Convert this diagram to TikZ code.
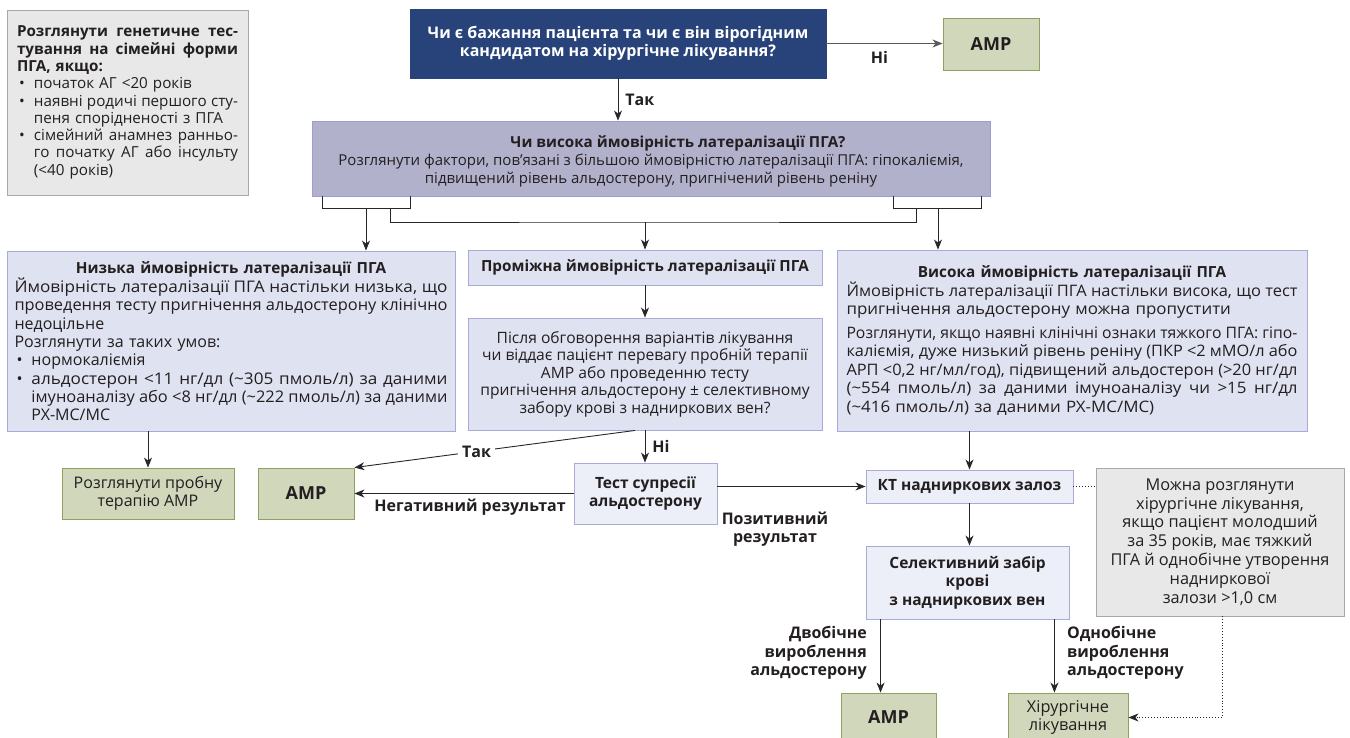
\documentclass[tikz,border=0pt]{standalone}
\usepackage{fontspec}
\setmainfont{Open Sans}
\usetikzlibrary{arrows.meta,calc}
\definecolor{navy}{RGB}{40,66,122}
\definecolor{purpfill}{RGB}{178,177,204}
\definecolor{purpdraw}{RGB}{158,156,214}
\definecolor{lbfill}{RGB}{223,226,241}
\definecolor{lbtwo}{RGB}{236,238,248}
\definecolor{lbdraw}{RGB}{170,170,218}
\definecolor{gfill}{RGB}{209,215,186}
\definecolor{gdraw}{RGB}{140,163,94}
\definecolor{grfill}{RGB}{232,232,232}
\definecolor{grdraw}{RGB}{168,168,168}
\definecolor{txt}{RGB}{35,31,32}
\definecolor{linec}{RGB}{40,38,40}
\newlength\mylen
\newlength\mywid
\newcommand{\myFit}[2]{% width, text
  \setlength{\mywid}{#1}%
  \settowidth{\mylen}{\spaceskip=0pt\xspaceskip=0pt #2}%
  \edef\mysc{\fpeval{max(0.93,min(1.07,\mywid/\mylen))}}%
  \makebox[\mywid][s]{\addfontfeature{FakeStretch=\mysc}\spaceskip=0pt\xspaceskip=0pt #2}}
\newcommand{\myJL}[1]{\makebox[\hsize][s]{\spaceskip=0pt\xspaceskip=0pt #1}}
\newcommand{\myFL}[1]{\myFit{\hsize}{#1}}
\newcommand{\myWide}[1]{{\addfontfeature{FakeStretch=1.07}#1}}
\newcommand{\myBUL}{\makebox[17pt][l]{\hspace{2pt}•}}
\newcommand{\myIND}{\hspace*{17pt}}
\newcommand{\myBJ}[1]{\myBUL\myFit{\dimexpr\hsize-17pt\relax}{#1}}
\newcommand{\myIJ}[1]{\myIND\myFit{\dimexpr\hsize-17pt\relax}{#1}}
\newcommand{\myBJs}[1]{\myBUL\makebox[\dimexpr\hsize-17pt\relax][s]{\spaceskip=0pt\xspaceskip=0pt #1}}
\newcommand{\myIJs}[1]{\myIND\makebox[\dimexpr\hsize-17pt\relax][s]{\spaceskip=0pt\xspaceskip=0pt #1}}
\newcommand{\myCT}[1]{\makebox[\hsize][c]{#1}}
\newcommand{\bt}[1]{{\fontsize{15.3}{18}\selectfont\bfseries #1}}
\begin{document}
\begin{tikzpicture}[x=1pt,y=-1pt,
  font=\fontsize{15.5}{18}\selectfont,
  box/.style={draw, line width=0.9pt, inner sep=0pt, text=txt, anchor=center},
  navybox/.style={box, fill=navy, draw=navy, text=white, align=center, font=\bfseries\fontsize{16}{17.5}\selectfont},
  purp/.style={box, fill=purpfill, draw=purpdraw, align=center, font=\fontsize{15}{18}\selectfont},
  lb/.style={box, fill=lbfill, draw=lbdraw},
  lbb/.style={box, fill=lbtwo, draw=lbdraw, align=center, font=\bfseries\fontsize{15.5}{18.5}\selectfont},
  grn/.style={box, fill=gfill, draw=gdraw, align=center},
  ampbox/.style={grn, font=\bfseries\fontsize{18}{20}\selectfont},
  gry/.style={box, fill=grfill, draw=grdraw},
  ln/.style={draw=linec, line width=0.9pt},
  arr/.style={ln, -{Stealth[length=10pt,width=8pt,inset=3pt]}},
  dotl/.style={draw=linec, line width=0.9pt, dotted},
  lab/.style={font=\bfseries\fontsize{16}{18.5}\selectfont, text=txt, inner sep=1pt}
]
\useasboundingbox (0,0) rectangle (1350,738);

% boxes
\node[gry, minimum width=241, minimum height=185, text width=221, align=left, font=\fontsize{15.2}{17.3}\selectfont] (gen) at (127.5,102.5) {%
\myJL{\bfseries Розглянути генетичне тес-}\\
\myJL{\bfseries тування на сімейні форми}\\
{\bfseries ПГА, якщо:}\\
\myBUL початок АГ <20 років\\
\myBJs{наявні родичі першого сту-}\\
\myIND пеня спорідненості з ПГА\\
\myBJs{сімейний анамнез ранньо-}\\
\myIJs{го початку АГ або інсульту}\\
\myIND (<40 років)};

\node[navybox, minimum width=416, minimum height=69] (q1) at (618,43.5) {Чи є бажання пацієнта та чи є він вірогідним\\кандидатом на хірургічне лікування?};

\node[ampbox, minimum width=96, minimum height=52] (amp1) at (991,44) {АМР};

\node[purp, minimum width=678, minimum height=75] (lat) at (651,158.5) {\rule{0pt}{17pt}\hspace*{54pt}{\fontsize{15.2}{18}\selectfont\bfseries Чи висока ймовірність латералізації ПГА?}\\Розглянути фактори, пов’язані з більшою ймовірністю латералізації ПГА: гіпокаліємія,\\підвищений рівень альдостерону, пригнічений рівень реніну};

\node[lb, minimum width=448, minimum height=180, text width=433, align=left, font=\fontsize{16}{18.3}\selectfont] (low) at (231,341) {%
\myCT{\bt{Низька ймовірність латералізації ПГА}}\\
\myFL{Ймовірність латералізації ПГА настільки низька, що}\\
\myFL{проведення тесту пригнічення альдостерону клінічно}\\
недоцільне\\
Розглянути за таких умов:\\
\myBUL нормокаліємія\\
\myBJ{альдостерон <11 нг/дл (\textasciitilde305 пмоль/л) за даними}\\
\myIJ{імуноаналізу або <8 нг/дл (\textasciitilde222 пмоль/л) за даними}\\
\myIND РХ-МС/МС};

\node[lb, minimum width=354, minimum height=35, font=\bfseries\fontsize{15.3}{18}\selectfont] (mid) at (645,267.5) {Проміжна ймовірність латералізації ПГА};

\node[lb, minimum width=354, minimum height=112, align=center, font=\fontsize{15.6}{17.5}\selectfont] (midq) at (645,374) {Після обговорення варіантів лікування\\чи віддає пацієнт перевагу пробній терапії\\АМР або проведенню тесту\\пригнічення альдостерону ± селективному\\забору крові з надниркових вен?};

\node[lb, minimum width=470, minimum height=181, text width=451, align=left, font=\fontsize{15.8}{18.5}\selectfont] (high) at (1072,340.5) {%
\myCT{\bt{Висока ймовірність латералізації ПГА}}\\
\myFL{Ймовірність латералізації ПГА настільки висока, що тест}\\
\myWide{пригнічення альдостерону можна пропустити}\\[5pt]
\myFL{Розглянути, якщо наявні клінічні ознаки тяжкого ПГА: гіпо-}\\
\myFL{каліємія, дуже низький рівень реніну (ПКР <2 мМО/л або}\\
\myFL{АРП <0,2 нг/мл/год), підвищений альдостерон (>20 нг/дл}\\
\myFL{(\textasciitilde554 пмоль/л) за даними імуноаналізу чи >15 нг/дл}\\
\myWide{(\textasciitilde416 пмоль/л) за даними РХ-МС/МС)}};

\node[grn, minimum width=172, minimum height=51, font=\fontsize{16}{18.5}\selectfont] (trial) at (148,493.5) {Розглянути пробну\\терапію АМР};
\node[ampbox, minimum width=96, minimum height=51] (amp2) at (306,493.5) {АМР};
\node[lbb, minimum width=143, minimum height=61] (test) at (645.5,493.5) {Тест супресії\\альдостерону};
\node[lbb, minimum width=207, minimum height=33] (ct) at (969.5,486.5) {КТ надниркових залоз};
\node[gry, minimum width=248, minimum height=148, align=center, font=\fontsize{16.3}{18.8}\selectfont] (note) at (1220,542) {Можна розглянути\\хірургічне лікування,\\якщо пацієнт молодший\\за 35 років, має тяжкий\\ПГА й однобічне утворення\\надниркової\\залози >1,0 см};
\node[lbb, minimum width=203, minimum height=73] (sel) at (967.5,582.5) {Селективний забір\\крові\\з надниркових вен};
\node[ampbox, minimum width=95, minimum height=49] (amp3) at (888.5,717.5) {АМР};
\node[grn, minimum width=120, minimum height=49, font=\fontsize{16.3}{17.5}\selectfont] (surg) at (1068,717.5) {Хірургічне\\лікування};

% connectors
\draw[arr, draw=black!65] (q1.east) -- (q1.east -| amp1.west) node[lab, midway, below=6pt, xshift=-5pt] {Ні};
\draw[arr] (q1.south) -- (q1.south |- lat.north) node[lab, midway, right=6pt] {Так};

\coordinate (bL1) at (322,208);
\coordinate (bL2) at (410,208);
\coordinate (bLm) at (366,208);
\coordinate (bM1) at (390,208);
\coordinate (hM) at (645,222);
\coordinate (bM2) at (916,208);
\coordinate (bR1) at (893,208);
\coordinate (bR2) at (981,208);
\coordinate (bRm) at (938,208);
\draw[ln] (bL1 |- lat.south) -- (bL1) -- (bL2) -- (bL2 |- lat.south);
\draw[ln] (bR1 |- lat.south) -- (bR1) -- (bR2) -- (bR2 |- lat.south);
\draw[ln] (bM1) |- (hM) -| (bM2);
\draw[arr] (bLm) -- (bLm |- low.north);
\draw[arr] (hM) -- (hM |- mid.north);
\draw[arr] (bRm) -- (bRm |- high.north);

\draw[arr] (mid.south) -- (midq.north);
\draw[arr] (trial.north |- low.south) -- (trial.north);
\draw[arr] (midq.south) -- (midq.south |- test.north) node[lab, midway, right=6pt] {Ні};
\draw[arr] ($(midq.south)+(-10,0)$) -- (amp2.north east) node[lab, pos=0.565, fill=white, inner xsep=4pt] {Так};
\draw[arr] (test.west) -- (amp2.east) node[lab, midway, below=4pt, xshift=6pt] {Негативний результат};
\draw[arr] (ct.west -| test.east) -- (ct.west);
\node[lab, align=center] (pos) at (775,529) {Позитивний\\результат};
\draw[arr] (ct.north |- high.south) -- (ct.north);
\draw[arr] (ct.south) -- (ct.south |- sel.north);
\draw[dotl] (ct.east) -- (ct.east -| note.west);
\coordinate (sL) at ($(sel.south west)+(15,0)$);
\coordinate (sR) at ($(sel.south east)+(-15,0)$);
\draw[arr] (sL) -- (sL |- amp3.north);
\draw[arr] (sR) -- (sR |- surg.north);
\node[lab, anchor=east, align=right] (bil) at (868,653) {Двобічне\\вироблення\\альдостерону};
\node[lab, anchor=west, align=left] (uni) at (1066,653) {Однобічне\\вироблення\\альдостерону};
\coordinate (nd) at (1222,717.5);
\draw[dotl, -{Stealth[length=10pt,width=8pt,inset=3pt]}] (nd |- note.south) -- (nd) -- (surg.east);
\end{tikzpicture}
\end{document}
